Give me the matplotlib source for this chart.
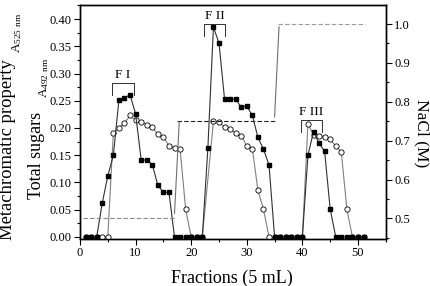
import matplotlib
matplotlib.use('Agg')
import matplotlib.pyplot as plt
from matplotlib.ticker import MultipleLocator
import numpy as np

plt.rcParams['font.family'] = ['Liberation Serif', 'DejaVu Serif']
plt.rcParams['mathtext.fontset'] = 'custom'
plt.rcParams['mathtext.rm'] = 'Liberation Serif'

# metachromatic property, A525 (filled squares)
meta_x = list(range(1, 52))
meta_y = [0, 0, 0, 0.062, 0.112, 0.150, 0.251, 0.255, 0.261, 0.226,
          0.142, 0.141, 0.133, 0.095, 0.082, 0.082, 0, 0, 0, 0,
          0, 0, 0.163, 0.385, 0.356, 0.253, 0.253, 0.253, 0.238, 0.240,
          0.223, 0.183, 0.161, 0.132, 0, 0, 0, 0, 0, 0,
          0.150, 0.193, 0.172, 0.157, 0.051, 0, 0, 0, 0, 0, 0]

# total sugars, A492 (open circles) - no reading at fraction 23
sugar_x = list(range(1, 23)) + list(range(24, 52))
sugar_y = [0, 0, 0, 0, 0, 0.191, 0.200, 0.209, 0.223, 0.214,
           0.211, 0.206, 0.201, 0.189, 0.184, 0.167, 0.164, 0.162, 0.051, 0,
           0, 0,
           0.212, 0.211, 0.202, 0.199, 0.190, 0.186, 0.167, 0.162, 0.086, 0.051,
           0, 0, 0, 0, 0, 0, 0,
           0.208, 0.187, 0.185, 0.183, 0.179, 0.167, 0.156, 0.051, 0, 0, 0]

# NaCl step gradient (right axis)
nacl_level = [0.5, 0.75, 1.0]
nacl_start = [0.5, 17.5, 35.6]
nacl_end = [17.3, 35.3, 51.3]
nacl_rise_x = [(17.0, 17.85), (35.0, 35.8)]
nacl_rise_y = [(0.513, 0.748), (0.761, 0.993)]

fractions = ['F I', 'F II', 'F III']
frac_from = [5.7, 22.3, 39.7]
frac_to = [9.8, 26.1, 43.6]
frac_top = [0.282, 0.390, 0.2145]

fig = plt.figure(figsize=(4.31, 2.86), dpi=100)
ax = fig.add_axes([0.1856, 0.1657, 0.7095, 0.8168])
ax2 = ax.twinx()

ax.plot(sugar_x, sugar_y, color='#808080', lw=0.8, marker='o', ms=3.8,
        mfc='white', mec='black', mew=0.6, zorder=3)
ax.plot(meta_x, meta_y, color='#303030', lw=0.8, marker='s', ms=3.3,
        mfc='black', mec='black', zorder=4)

dash_cols = ['#8a8a8a', '#202020', '#9a9a9a']
for lev, x0, x1, c in zip(nacl_level, nacl_start, nacl_end, dash_cols):
    ax2.plot([x0, x1], [lev, lev], color=c, lw=0.8, ls=(0, (4, 2)))
for rx, ry in zip(nacl_rise_x, nacl_rise_y):
    ax2.plot(rx, ry, color='#707070', lw=0.8)

for name, a, b, top in zip(fractions, frac_from, frac_to, frac_top):
    leg = 0.021
    ax.plot([a, a, b, b], [top - leg, top, top, top - leg], color='#303030',
            lw=0.7, zorder=5)
    ax.text((a + b) / 2, top + 0.004, name, ha='center', va='bottom',
            fontsize=9.5)

ax.set_xlim(0, 55)
ax.set_ylim(-0.003, 0.4257)
ax2.set_ylim(0.448, 1.049)

ax.xaxis.set_major_locator(MultipleLocator(10))
ax.xaxis.set_minor_locator(MultipleLocator(5))
ax.yaxis.set_major_locator(MultipleLocator(0.05))
ax.yaxis.set_minor_locator(MultipleLocator(0.025))
ax2.yaxis.set_major_locator(MultipleLocator(0.1))
ax2.yaxis.set_minor_locator(MultipleLocator(0.05))
ax.yaxis.set_major_formatter(plt.FormatStrFormatter('%.2f'))
ax2.yaxis.set_major_formatter(plt.FormatStrFormatter('%.1f'))

for a in (ax, ax2):
    a.tick_params(which='major', direction='out', length=4, width=0.8,
                  labelsize=9, pad=2)
    a.tick_params(which='minor', direction='out', length=2.2, width=0.8)
    for s in a.spines.values():
        s.set_linewidth(1.0)
ax.tick_params(top=False, right=False, which='both')

fig.text(231.5 / 431, 1 - 278 / 286, 'Fractions (5 mL)', ha='center',
         va='center', fontsize=13)
fig.text(7.5 / 431, 1 - 150 / 286, 'Metachromatic property', rotation=90,
         ha='center', va='center', fontsize=13.4)
fig.text(17 / 431, 1 - 33 / 286, r'$\mathregular{A_{525\ nm}}$', rotation=90,
         ha='center', va='center', fontsize=9.5)
fig.text(37 / 431, 1 - 155 / 286, 'Total sugars', rotation=90,
         ha='center', va='center', fontsize=13)
fig.text(44 / 431, 1 - 78 / 286, r'$\mathregular{A_{492\ nm}}$', rotation=90,
         ha='center', va='center', fontsize=9.5)
fig.text(422 / 431, 1 - 133 / 286, 'NaCl (M)', rotation=270,
         ha='center', va='center', fontsize=12.5)

fig.savefig('out.png', dpi=100)
